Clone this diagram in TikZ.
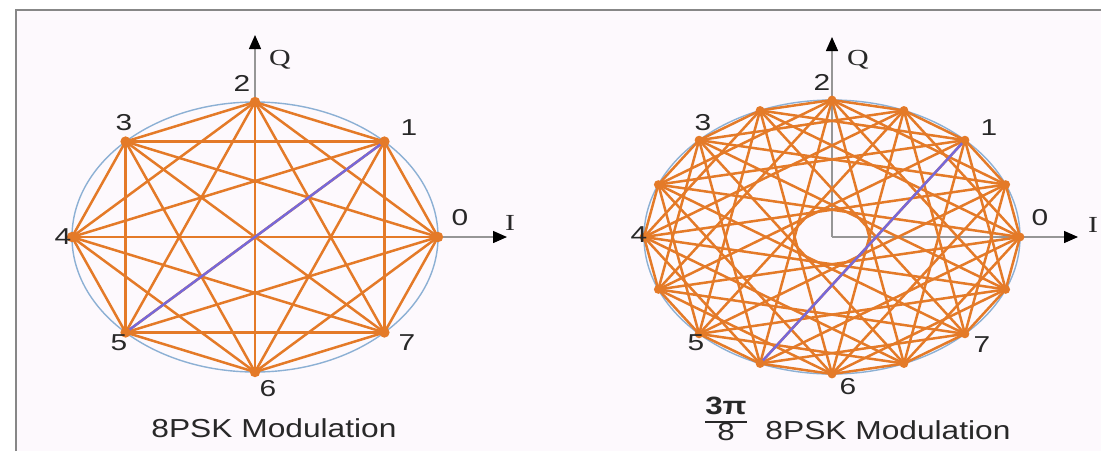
\documentclass[tikz,border=0pt]{standalone}
\usepackage{fontspec}
\usepackage{graphicx}
\setmainfont{Liberation Sans}
\newfontfamily\qifont{Liberation Serif}
\usetikzlibrary{arrows.meta}
\definecolor{edgeorange}{RGB}{228,122,40}
\definecolor{blueline}{RGB}{118,104,218}
\definecolor{rimblue}{RGB}{140,176,212}
\definecolor{axisgray}{RGB}{150,150,150}
\definecolor{framegray}{RGB}{135,135,135}
\definecolor{bgpink}{RGB}{253,249,253}
\definecolor{txtgray}{RGB}{40,40,40}
\newcommand{\hstretch}[2]{\scalebox{#1}[1]{#2}}
\begin{document}
\begin{tikzpicture}[x=0.5pt,y=-0.5pt,
  edge/.style={draw=edgeorange, line width=1.25pt},
  symline/.style={draw=blueline, line width=1.2pt},
  rim/.style={draw=rimblue, line width=0.7pt},
  axisline/.style={draw=axisgray, line width=0.7pt, -{Triangle[length=7pt,width=6pt,color=black]}},
  vdot/.style={fill=edgeorange},
  lbl/.style={inner sep=0pt, text=txtgray, font=\fontsize{11.5}{13}\selectfont},
  axlbl/.style={inner sep=0pt, text=txtgray, font=\fontsize{11.5}{13}\qifont},
  captext/.style={inner sep=0pt, text=txtgray, font=\fontsize{13}{15}\selectfont}]
\useasboundingbox (0,0) rectangle (1101,451);
\fill[white] (0,0) rectangle (1101,451);
\fill[bgpink] (16,10) rectangle (1101,451);
\draw[framegray, line width=1.3pt] (16,451) -- (16,10) -- (1101,10);

% ---------------- left: 8PSK ----------------
\coordinate (LC) at (255,237);
\coordinate (LQ) at (255,35);
\coordinate (LI) at (507,237);
\foreach \k in {0,...,7}
  \coordinate (L\k) at ({255+183*cos(45*\k)},{237-135*sin(45*\k)});
\draw[axisline] (LC) -- (LQ);
\draw[axisline] (LC) -- (LI);
\draw[rim] (LC) ellipse [x radius=183, y radius=135];
\foreach \i in {0,...,6} {
  \pgfmathtruncatemacro\s{\i+1}
  \foreach \j in {\s,...,7}
    \draw[edge] (L\i) -- (L\j);
}
\draw[symline] (L1) -- (L5);
\foreach \k in {0,...,7} \fill[vdot] (L\k) circle[radius=2.6pt];

\node[lbl] (l0) at (460,218) {\hstretch{1.3}{0}};
\node[lbl] (l1) at (409,128) {\hstretch{1.3}{1}};
\node[lbl] (l2) at (242,83) {\hstretch{1.3}{2}};
\node[lbl] (l3) at (124,123) {\hstretch{1.3}{3}};
\node[lbl] (l4) at (63,237) {\hstretch{1.3}{4}};
\node[lbl] (l5) at (119,343) {\hstretch{1.3}{5}};
\node[lbl] (l6) at (268,389) {\hstretch{1.3}{6}};
\node[lbl] (l7) at (407,343) {\hstretch{1.3}{7}};
\node[axlbl] (lq) at (280,60) {\hstretch{1.3}{Q}};
\node[axlbl] (li) at (510,223) {\hstretch{1.3}{I}};
\node[captext] (capL) at (274,428) {\hstretch{1.22}{8PSK Modulation}};

% ---------------- right: 3pi/8 8PSK ----------------
\coordinate (RC) at (832,237);
\coordinate (RQ) at (832,37);
\coordinate (RI) at (1078,237);
\foreach \k in {0,...,15}
  \coordinate (R\k) at ({832+188*cos(22.5*\k)},{237-137*sin(22.5*\k)});
\draw[axisline] (RC) -- (RQ);
\draw[axisline] (RC) -- (RI);
\draw[rim] (RC) ellipse [x radius=188, y radius=137];
\foreach \i in {0,2,...,14}
  \foreach \j in {1,3,...,15}
    \draw[edge] (R\i) -- (R\j);
\draw[symline] (R2) -- (R11);
\foreach \k in {0,...,15} \fill[vdot] (R\k) circle[radius=2.2pt];

\node[lbl] (r0) at (1040,218) {\hstretch{1.3}{0}};
\node[lbl] (r1) at (989,128) {\hstretch{1.3}{1}};
\node[lbl] (r2) at (822,82) {\hstretch{1.3}{2}};
\node[lbl] (r3) at (703,123) {\hstretch{1.3}{3}};
\node[lbl] (r4) at (639,235) {\hstretch{1.3}{4}};
\node[lbl] (r5) at (696,343) {\hstretch{1.3}{5}};
\node[lbl] (r6) at (848,387) {\hstretch{1.3}{6}};
\node[lbl] (r7) at (982,345) {\hstretch{1.3}{7}};
\node[axlbl] (rq) at (858,60) {\hstretch{1.3}{Q}};
\node[axlbl] (ri) at (1093,225) {\hstretch{1.3}{I}};
\node[captext] (capR) at (888,430) {\hstretch{1.22}{8PSK Modulation}};
\node[captext, font=\fontsize{12.5}{13}\selectfont] (frac) at (726,422)
  {\renewcommand\arraystretch{0.8}\setlength\tabcolsep{0pt}\setlength\arrayrulewidth{1pt}%
   \begin{tabular}{c}\hstretch{1.25}{\textbf{3π}}\\\hline\hstretch{1.25}{8}\end{tabular}};
\end{tikzpicture}
\end{document}
